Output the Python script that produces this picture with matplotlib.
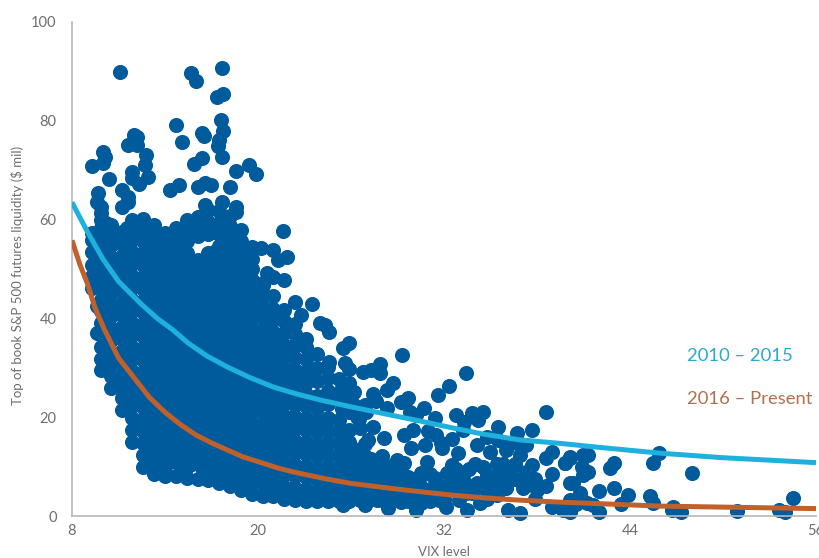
import matplotlib
matplotlib.use("Agg")
import matplotlib.pyplot as plt

plt.rcParams["font.family"] = ["Lato", "DejaVu Sans"]

BLUE = "#005b9d"
TEAL = "#1fb1dd"
BROWN = "#c0602a"
GREY = "#6e6e6e"

dense_vix = [9.3, 9.9, 10.5, 11.2, 11.9, 12.6, 13.3, 14.0, 14.7, 15.4, 16.1, 16.8, 17.5,
             18.2, 18.9, 19.6, 20.3, 21.0, 21.7, 22.4, 23.1, 23.8, 24.5, 25.2, 25.9]
dense_liq = [
    [46.2, 48.5, 50.9, 53.4, 55.8, 57.2],
    [29.5, 31.8, 34.2, 36.6, 39.0, 41.4, 43.8, 46.2, 48.6, 51.0, 53.4, 55.8, 58.2, 60.0],
    [26.0, 28.4, 30.8, 33.2, 35.6, 38.0, 40.4, 42.8, 45.2, 47.6, 50.0, 52.4, 54.8, 57.2, 59.0],
    [21.5, 23.9, 26.3, 28.7, 31.1, 33.5, 35.9, 38.3, 40.7, 43.1, 45.5, 47.9, 50.3, 52.7, 55.1, 57.5],
    [15.0, 17.4, 19.8, 22.2, 24.6, 27.0, 29.4, 31.8, 34.2, 36.6, 39.0, 41.4, 43.8, 46.2, 48.6, 51.0, 53.4, 55.8, 58.2, 60.0],
    [10.0, 12.4, 14.8, 17.2, 19.6, 22.0, 24.4, 26.8, 29.2, 31.6, 34.0, 36.4, 38.8, 41.2, 43.6, 46.0, 48.4, 50.8, 53.2, 55.6, 58.0, 60.2],
    [8.6, 11.0, 13.4, 15.8, 18.2, 20.6, 23.0, 25.4, 27.8, 30.2, 32.6, 35.0, 37.4, 39.8, 42.2, 44.6, 47.0, 49.4, 51.8, 54.2, 56.6, 59.0],
    [8.0, 10.0, 12.4, 14.8, 17.2, 19.6, 22.0, 24.4, 26.8, 29.2, 31.6, 34.0, 36.4, 38.8, 41.2, 43.6, 46.0, 48.4, 50.8, 53.2, 55.6, 57.2],
    [8.0, 11.0, 13.4, 15.8, 18.2, 20.6, 23.0, 25.4, 27.8, 30.2, 32.6, 35.0, 37.4, 39.8, 42.2, 44.6, 47.0, 49.4, 51.8, 54.2, 56.2, 58.2],
    [7.6, 10.0, 12.4, 14.8, 17.2, 19.6, 22.0, 24.4, 26.8, 29.2, 31.6, 34.0, 36.4, 38.8, 41.2, 43.6, 46.0, 48.4, 50.8, 53.2, 55.6, 58.0, 60.0],
    [7.5, 11.0, 13.4, 15.8, 18.2, 20.6, 23.0, 25.4, 27.8, 30.2, 32.6, 35.0, 37.4, 39.8, 42.2, 44.6, 47.0, 49.4, 51.8, 56.6, 59.0, 60.6],
    [7.2, 10.0, 12.4, 14.8, 17.2, 19.6, 22.0, 24.4, 26.8, 29.2, 31.6, 34.0, 36.4, 38.8, 41.2, 43.6, 46.0, 48.4, 50.8, 53.2, 57.0, 59.6, 62.0],
    [6.6, 9.0, 11.4, 13.8, 16.2, 18.6, 21.0, 23.4, 25.8, 28.2, 30.6, 33.0, 35.4, 37.8, 40.2, 42.6, 45.0, 47.4, 49.8, 52.2, 54.6, 57.0, 59.4, 61.8],
    [6.0, 8.4, 10.8, 13.2, 15.6, 18.0, 20.4, 22.8, 25.2, 27.6, 30.0, 32.4, 34.8, 37.2, 39.6, 42.0, 44.4, 46.8, 49.2, 51.6, 54.0, 56.4, 58.8, 60.8],
    [5.2, 7.6, 10.0, 12.4, 14.8, 17.2, 19.6, 22.0, 24.4, 26.8, 29.2, 31.6, 34.0, 36.4, 38.8, 41.2, 43.6, 46.0, 48.4, 50.8, 53.2, 55.6, 57.8],
    [4.5, 6.9, 9.3, 11.7, 14.1, 16.5, 18.9, 21.3, 23.7, 26.1, 28.5, 30.9, 33.3, 35.7, 38.1, 40.5, 42.9, 45.3, 47.7, 50.1, 52.0],
    [4.0, 6.4, 8.8, 11.2, 13.6, 16.0, 18.4, 20.8, 23.2, 25.6, 28.0, 30.4, 32.8, 35.2, 37.6, 40.0, 42.4, 44.8, 46.8],
    [4.0, 6.0, 8.4, 10.8, 13.2, 15.6, 18.0, 20.4, 22.8, 25.2, 27.6, 30.0, 32.4, 34.8, 37.2, 39.6, 42.0, 44.6],
    [3.5, 5.9, 8.3, 10.7, 13.1, 15.5, 17.9, 20.3, 22.7, 25.1, 27.5, 29.9, 32.3, 34.7, 37.1, 39.5, 41.8],
    [3.2, 5.6, 8.0, 10.4, 12.8, 15.2, 17.6, 20.0, 22.4, 24.8, 27.2, 29.6, 32.0, 34.4, 36.8, 38.8],
    [3.0, 5.4, 7.8, 10.2, 12.6, 15.0, 17.4, 19.8, 22.2, 24.6, 27.0, 29.4, 31.8, 34.2, 35.8],
    [3.0, 5.0, 7.4, 9.8, 12.2, 14.6, 17.0, 19.4, 21.8, 24.2, 27.4, 30.0, 32.8],
    [3.0, 5.4, 7.8, 10.2, 12.6, 15.0, 17.4, 19.8, 22.6, 25.4, 28.0, 30.2],
    [3.0, 5.0, 7.4, 9.8, 12.2, 14.6, 17.0, 19.4, 24.0, 27.8],
    [3.0, 5.4, 7.8, 10.2, 12.6, 15.0, 17.4, 21.0, 24.0, 27.0],
]

# second pass over the body of the cloud, between the columns above
infill_vix = [9.6, 10.2, 10.85, 11.55, 12.25, 12.95, 13.65, 14.35, 15.05, 15.75, 16.45, 17.15,
              17.85, 18.55, 19.25, 19.95, 20.65, 21.35, 22.05, 22.75, 23.45, 24.15]
infill_liq = [
    [37.0, 42.6, 47.4, 52.2, 56.6],
    [30.6, 35.4, 40.2, 45.0, 49.8, 54.6, 59.4],
    [27.2, 32.0, 36.8, 41.6, 46.4, 51.2, 56.0],
    [24.0, 30.0, 34.8, 39.6, 44.4, 49.2, 54.0, 58.4],
    [18.6, 23.4, 28.2, 33.0, 37.8, 42.6, 47.4, 52.2, 57.0],
    [13.0, 18.0, 23.2, 28.0, 32.8, 37.6, 42.4, 47.2, 52.0, 56.8],
    [11.8, 16.6, 21.4, 26.2, 31.0, 35.8, 40.6, 45.4, 50.2, 55.0],
    [11.2, 16.0, 20.8, 25.6, 30.4, 35.2, 40.0, 44.8, 49.6, 54.4],
    [10.0, 14.8, 19.6, 24.4, 29.2, 34.0, 38.8, 43.6, 48.4, 53.2],
    [10.6, 15.4, 20.2, 25.0, 29.8, 34.6, 39.4, 44.2, 49.0, 58.6],
    [9.4, 14.2, 19.0, 23.8, 28.6, 33.4, 38.2, 43.0, 47.8, 58.0],
    [10.2, 15.0, 19.8, 24.6, 29.4, 34.2, 39.0, 43.8, 48.6, 53.4, 59.0],
    [9.0, 13.8, 18.6, 23.4, 28.2, 33.0, 37.8, 42.6, 47.4, 52.2, 57.0],
    [8.4, 13.2, 18.0, 22.8, 27.6, 32.4, 37.2, 42.0, 46.8, 51.6],
    [7.8, 12.6, 17.4, 22.2, 27.0, 31.8, 36.6, 41.4, 46.2],
    [7.2, 12.0, 16.8, 21.6, 26.4, 31.2, 36.0, 40.8],
    [6.6, 11.4, 16.2, 21.0, 25.8, 30.6, 35.4, 40.2],
    [6.0, 10.8, 15.6, 20.4, 25.2, 30.0, 34.8],
    [5.4, 10.2, 15.0, 19.8, 24.6, 29.4, 34.2],
    [4.8, 9.6, 14.4, 19.2, 24.0, 28.8],
    [4.2, 9.0, 13.8, 18.6, 23.4, 28.2],
    [3.6, 8.4, 13.2, 18.0, 22.8],
]

# loose points above the cloud
upper_vix = [11.1, 15.66, 16.0, 17.7, 17.33, 17.74, 14.7, 17.6, 17.74, 16.4, 16.5, 15.1, 17.5, 17.4,
             17.65, 16.37, 15.9, 19.4, 18.6, 19.9, 18.2, 14.3, 14.9, 16.1, 16.6, 17.0, 10.0, 10.1,
             10.0, 9.3, 10.4, 12.0, 12.2, 11.6, 12.2, 12.8, 12.7, 12.9, 11.85, 11.9, 12.3, 9.65,
             9.6, 9.9, 9.9, 11.2, 11.6, 11.2, 11.6, 16.6, 17.7, 18.6, 18.6, 21.6, 21.85, 21.3,
             21.0, 20.2, 19.6, 21.7, 21.0, 20.6, 20.3, 23.5, 24.0, 22.8, 22.4]
upper_liq = [89.9, 89.6, 88.1, 90.6, 84.9, 85.4, 79.1, 80.2, 78.0, 77.5, 76.9, 75.8, 76.1, 74.8,
             72.7, 72.5, 71.3, 71.0, 69.9, 69.2, 66.7, 66.0, 67.0, 66.7, 67.4, 67.0, 73.7, 72.7,
             71.4, 70.8, 68.2, 77.1, 76.7, 75.1, 75.1, 73.1, 71.0, 68.7, 69.7, 68.4, 67.2, 65.4,
             63.6, 62.6, 61.3, 66.0, 64.6, 62.6, 63.6, 63.0, 63.6, 62.6, 61.6, 57.6, 52.5, 51.8,
             53.9, 54.3, 54.5, 47.8, 48.4, 49.2, 47.2, 43.0, 39.0, 40.7, 43.3]

# points right of the cloud, VIX 24 and up
right_vix = [29.3, 25.9, 25.5, 24.6, 24.3, 33.4, 32.3, 31.6, 38.6, 28.7, 28.3, 27.9, 27.9, 27.3, 26.8,
             25.6, 24.6, 29.7, 29.2, 28.3, 30.7, 29.8, 30.2, 31.4, 32.8, 33.8, 34.5, 34.2, 33.3, 35.5,
             37.7, 36.7, 37.3, 39.0, 38.6, 37.7, 37.3, 39.0, 39.8, 40.1, 40.1, 37.5, 37.1, 38.0, 36.9,
             36.1, 33.5, 32.1, 30.2, 28.4, 26.9, 25.5, 39.0, 39.7, 29.4, 29.9, 30.8, 31.9, 32.9, 31.5,
             34.1, 35.0, 36.0, 36.9, 36.3, 34.5, 35.6, 36.3, 33.2, 32.2, 31.4, 32.6, 34.1, 36.0, 35.2,
             30.5, 29.4, 28.1, 27.4, 26.6, 34.3, 31.7, 33.0, 30.5, 29.2, 27.7,
             26.6, 26.6, 26.6, 26.6, 27.3, 27.3, 27.3, 27.3, 28.0, 28.0, 28.0, 28.0, 28.7, 28.7, 28.7,
             29.4, 29.4, 30.1, 30.1, 30.8, 31.5, 32.2, 33.0, 33.8, 34.6, 35.4, 33.6, 35.0, 32.5, 30.9,
             26.4, 26.9, 27.4, 25.9, 26.5, 27.1]
right_liq = [32.6, 35.0, 34.0, 37.2, 38.7, 29.0, 26.4, 24.5, 21.0, 26.9, 25.5, 30.7, 29.0, 29.5, 29.2,
             31.0, 31.2, 23.9, 23.1, 21.8, 21.8, 21.1, 20.4, 19.8, 20.4, 20.8, 21.1, 19.4, 19.1, 18.1,
             17.4, 16.8, 14.4, 13.0, 11.7, 10.3, 9.0, 8.5, 10.7, 11.7, 6.7, 6.7, 5.7, 5.3, 0.7,
             1.2, 1.2, 1.9, 1.2, 1.6, 2.2, 2.2, 1.9, 1.2, 16.4, 13.8, 14.4, 13.8, 12.8, 16.4,
             14.4, 13.0, 13.4, 12.3, 14.8, 10.0, 9.0, 9.3, 8.3, 8.7, 7.7, 6.7, 6.7, 5.7, 5.3,
             8.7, 10.7, 15.8, 18.0, 17.8, 2.6, 3.2, 3.2, 2.6, 2.9, 3.2,
             3.2, 5.6, 8.0, 10.4, 4.4, 6.8, 9.2, 11.6, 3.2, 5.6, 8.0, 12.2, 4.4, 6.8, 9.6,
             5.6, 8.0, 4.4, 6.8, 5.2, 5.0, 5.4, 4.8, 4.6, 5.6, 4.2, 9.6, 7.4, 10.4, 11.0,
             20.0, 22.5, 24.6, 29.8, 19.6, 15.4]

# thicker part of the lower band, VIX 25 to 37
band_vix = [26.2, 26.2, 26.2, 26.2, 26.2, 26.9, 26.9, 26.9, 26.9, 26.9, 27.6, 27.6, 27.6, 27.6, 28.3, 28.3,
            28.3, 28.3, 29.0, 29.0, 29.0, 29.0, 29.7, 29.7, 29.7, 30.4, 30.4, 31.1, 31.1, 31.1, 32.0, 32.0,
            32.8, 33.4, 33.4, 34.0, 34.8, 34.8, 34.8, 35.8, 35.8, 36.6, 36.6, 37.9, 38.6,
            26.2, 27.0, 27.6, 26.2, 25.4, 25.4, 30.0, 31.0, 31.8, 32.5, 33.2, 34.8, 35.5, 36.6, 35.4, 37.9]
band_liq = [4.0, 6.4, 8.8, 11.2, 13.6, 5.0, 7.4, 9.8, 12.2, 14.6, 4.0, 6.4, 8.8, 11.2, 3.0, 5.4,
            7.8, 10.2, 4.2, 6.6, 9.0, 11.4, 3.0, 5.4, 7.8, 4.2, 6.6, 3.0, 5.4, 8.6, 3.4, 5.8,
            9.6, 4.6, 6.4, 10.6, 3.4, 6.2, 8.2, 7.0, 10.6, 7.4, 10.5, 7.4, 6.0,
            22.4, 21.0, 23.2, 25.2, 21.6, 26.0, 17.4, 17.2, 14.8, 15.6, 17.5, 16.0, 15.4, 15.0, 10.6, 3.4]

# far right tail
tail_vix = [45.9, 45.5, 48.0, 54.5, 53.6, 54.0, 50.9, 47.3, 46.8, 46.7, 45.3, 45.5, 43.9, 43.4, 43.0, 42.0,
            42.0, 41.6, 41.2, 40.8, 40.3, 40.1, 39.7, 40.1, 43.0, 42.7, 41.3, 41.0, 40.1, 39.8, 40.9,
            41.3, 41.0, 40.5, 41.0]
tail_liq = [12.8, 10.8, 8.7, 3.6, 1.2, 0.8, 1.0, 0.9, 1.9, 1.2, 4.0, 2.7, 4.2, 2.4, 5.7, 5.1,
            0.9, 2.2, 2.7, 4.6, 6.7, 0.9, 1.6, 3.2, 10.7, 9.7, 12.3, 12.3, 12.0, 10.7, 10.0,
            9.0, 8.3, 2.4, 3.0]

# fitted curves
curve_vix_a = [8, 9, 10, 11, 11.7, 12.5, 13.5, 14.5, 15.5, 16.7, 18, 19.5, 21, 22.5, 24, 26, 28.3, 30.5, 32.6,
               34.5, 36.9, 39.5, 42, 46, 50, 56]
curve_liq_a = [63.5, 57.5, 52, 47.5, 45.3, 42.8, 40, 37.7, 35, 32.4, 30.2, 28, 26.1, 24.7, 23.5, 22.1, 20.6, 19.2, 17.8,
               16.6, 15.4, 14.7, 13.9, 12.7, 11.8, 10.8]
curve_vix_b = [8, 8.5, 9, 9.5, 10.1, 11, 12, 13, 14, 15, 16, 17, 18, 19, 20.3, 21.3, 22.3, 24.4, 26, 28.3, 30.5,
               32.6, 34.5, 36.9, 39.5, 42, 46, 50, 56]
curve_liq_b = [55.8, 51, 47, 42, 37.7, 32, 28, 24, 21, 18.5, 16.4, 14.8, 13.4, 12, 10.7, 9.7, 8.9, 7.5, 6.6, 5.7, 4.9,
               4.2, 3.7, 3.2, 2.8, 2.5, 2, 1.8, 1.5]

x_ticks = [8, 20, 32, 44, 56]
y_ticks = [0, 20, 40, 60, 80, 100]

fig = plt.figure(figsize=(8.2, 5.58), dpi=100)
ax = fig.add_axes([72 / 820, 1 - 516 / 558, 744 / 820, 494 / 558])

xs, ys = [], []
for vix, row in zip(dense_vix + infill_vix, dense_liq + infill_liq):
    xs += [vix] * len(row)
    ys += row
xs += upper_vix + right_vix + band_vix + tail_vix
ys += upper_liq + right_liq + band_liq + tail_liq
ax.scatter(xs, ys, s=118, color=BLUE, linewidths=0, zorder=2, clip_on=False)

ax.plot(curve_vix_a, curve_liq_a, color=TEAL, lw=3.6, zorder=3, solid_capstyle="butt")
ax.plot(curve_vix_b, curve_liq_b, color=BROWN, lw=3.6, zorder=4, solid_capstyle="butt")

ax.set_xlim(8, 56)
ax.set_ylim(0, 100)
ax.set_xticks(x_ticks)
ax.set_yticks(y_ticks)
ax.tick_params(length=0, labelsize=10.5, labelcolor=GREY, pad=6)
ax.tick_params(axis="y", pad=11)
for side in ["top", "right"]:
    ax.spines[side].set_visible(False)
for side in ["left", "bottom"]:
    ax.spines[side].set_color("#b8b8b8")
    ax.spines[side].set_linewidth(1.2)

fig.text(444 / 820, 1 - 552 / 558, "VIX level", color=GREY, fontsize=9.5, ha="center", va="center")
fig.text(18 / 820, 1 - 275 / 558, "Top of book S&P 500 futures liquidity ($ mil)", color=GREY,
         fontsize=9.5, rotation=90, ha="center", va="center")

fig.text(687 / 820, 1 - 356 / 558, "2010 – 2015", color="#2aa9cf", fontsize=13.3, va="center")
fig.text(687 / 820, 1 - 399 / 558, "2016 – Present", color="#b0714c", fontsize=13.3, va="center")

fig.savefig("out.png", dpi=100)
